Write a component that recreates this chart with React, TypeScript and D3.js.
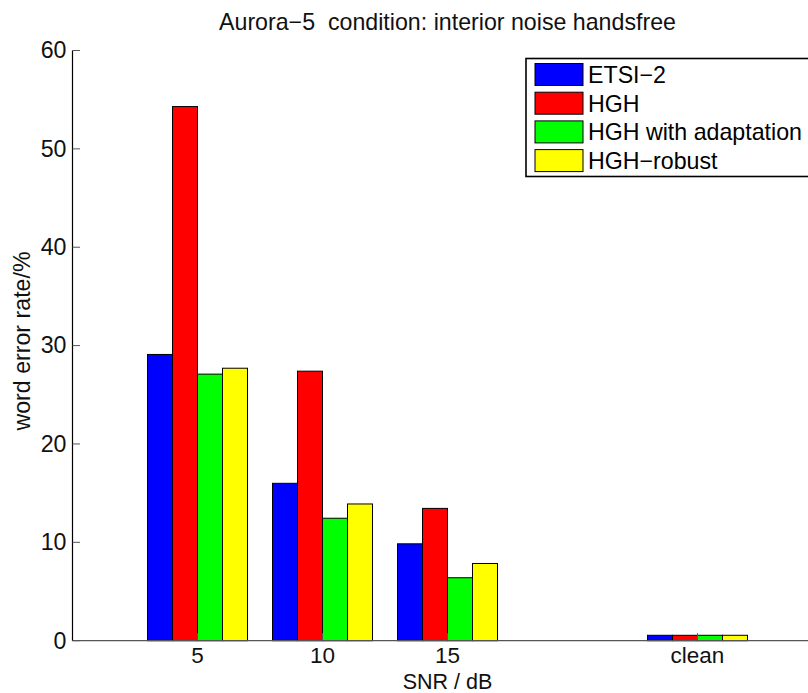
import React, { useEffect, useRef } from 'react';
import * as d3 from 'd3';

const categories = ['5', '10', '15', 'clean'];
const positions = [1, 2, 3, 5];
const seriesNames = ['ETSI\u22122', 'HGH', 'HGH with adaptation', 'HGH\u2212robust'];
const seriesColors = ['#0000ff', '#ff0000', '#00ff00', '#ffff00'];
const etsi2 = [29.1, 16.0, 9.85, 0.55];
const hgh = [54.3, 27.4, 13.45, 0.55];
const hghAdapt = [27.1, 12.45, 6.4, 0.55];
const hghRobust = [27.7, 13.9, 7.85, 0.55];
const yTicks = [0, 10, 20, 30, 40, 50, 60];

const series = [etsi2, hgh, hghAdapt, hghRobust];
const FONT = 'Liberation Sans, Arial, Helvetica, sans-serif';
const FS = 23.2;

const App: React.FC = () => {
  const svgRef = useRef<SVGSVGElement>(null);

  useEffect(() => {
    if (!svgRef.current) return;
    const W = 808;
    const H = 693;

    const svg = d3.select(svgRef.current);
    svg.selectAll('*').remove();
    svg.attr('width', W).attr('height', H);

    const x = d3.scaleLinear().domain([0, 6]).range([72.5, 822.5]);
    const y = d3.scaleLinear().domain([0, 60]).range([640.7, 50.5]);
    const barW = 0.2; // in x units

    // bars
    series.forEach((vals, si) => {
      svg
        .append('g')
        .selectAll('rect')
        .data(vals)
        .enter()
        .append('rect')
        .attr('x', (_d, i) => x(positions[i] + (si - 2) * barW))
        .attr('y', d => y(d))
        .attr('width', x(barW) - x(0))
        .attr('height', d => y(0) - y(d))
        .attr('fill', seriesColors[si])
        .attr('stroke', '#000')
        .attr('stroke-width', 1);
    });

    // axes
    svg
      .append('line')
      .attr('x1', x(0))
      .attr('x2', W + 20)
      .attr('y1', y(0))
      .attr('y2', y(0))
      .attr('stroke', '#555')
      .attr('stroke-width', 1.2);

    svg
      .append('line')
      .attr('x1', x(0))
      .attr('x2', x(0))
      .attr('y1', y(60))
      .attr('y2', y(0))
      .attr('stroke', '#000')
      .attr('stroke-width', 1.2);

    // y ticks
    yTicks.forEach(t => {
      svg
        .append('line')
        .attr('x1', x(0))
        .attr('x2', x(0) + 7.5)
        .attr('y1', y(t))
        .attr('y2', y(t))
        .attr('stroke', '#555')
        .attr('stroke-width', 1);
      svg
        .append('text')
        .attr('x', 66.5)
        .attr('y', y(t))
        .attr('dy', '0.34em')
        .attr('text-anchor', 'end')
        .attr('font-family', FONT)
        .attr('font-size', FS)
        .attr('fill', '#111')
        .text(t);
    });

    // x ticks
    positions.forEach((p, i) => {
      svg
        .append('line')
        .attr('x1', x(p))
        .attr('x2', x(p))
        .attr('y1', y(0))
        .attr('y2', y(0) - 7.5)
        .attr('stroke', '#555')
        .attr('stroke-width', 1);
      svg
        .append('text')
        .attr('x', x(p))
        .attr('y', 663)
        .attr('text-anchor', 'middle')
        .attr('font-family', FONT)
        .attr('font-size', 22.5)
        .attr('fill', '#111')
        .text(categories[i]);
    });

    // labels
    svg
      .append('text')
      .attr('x', (x(0) + x(6)) / 2)
      .attr('y', 688.5)
      .attr('text-anchor', 'middle')
      .attr('font-family', FONT)
      .attr('font-size', 21.5)
      .attr('fill', '#111')
      .text('SNR / dB');

    svg
      .append('text')
      .attr('transform', `translate(30,341) rotate(-90)`)
      .attr('text-anchor', 'middle')
      .attr('font-family', FONT)
      .attr('font-size', FS)
      .attr('fill', '#111')
      .text('word error rate/%');

    svg
      .append('text')
      .attr('x', (x(0) + x(6)) / 2)
      .attr('y', 30)
      .attr('text-anchor', 'middle')
      .attr('font-family', FONT)
      .attr('font-size', FS)
      .attr('fill', '#111')
      .style('white-space', 'pre')
      .text('Aurora\u22125  condition: interior noise handsfree');

    // legend
    const lg = svg.append('g').attr('transform', 'translate(526,58.5)');
    lg.append('rect')
      .attr('width', 300)
      .attr('height', 118)
      .attr('fill', '#fff')
      .attr('stroke', '#000')
      .attr('stroke-width', 1.6);

    seriesNames.forEach((name, i) => {
      const row = lg.append('g').attr('transform', `translate(0,${5 + i * 28.7})`);
      row
        .append('rect')
        .attr('x', 9)
        .attr('y', 0)
        .attr('width', 48)
        .attr('height', 22)
        .attr('fill', seriesColors[i])
        .attr('stroke', '#000')
        .attr('stroke-width', 1);
      row
        .append('text')
        .attr('x', 62)
        .attr('y', 19.5)
        .attr('font-family', FONT)
        .attr('font-size', FS)
        .attr('fill', '#000')
        .text(name);
    });
  }, []);

  return <svg ref={svgRef} style={{ position: 'absolute', left: 0, top: 0, background: '#fff' }}></svg>;
};

export default App;
